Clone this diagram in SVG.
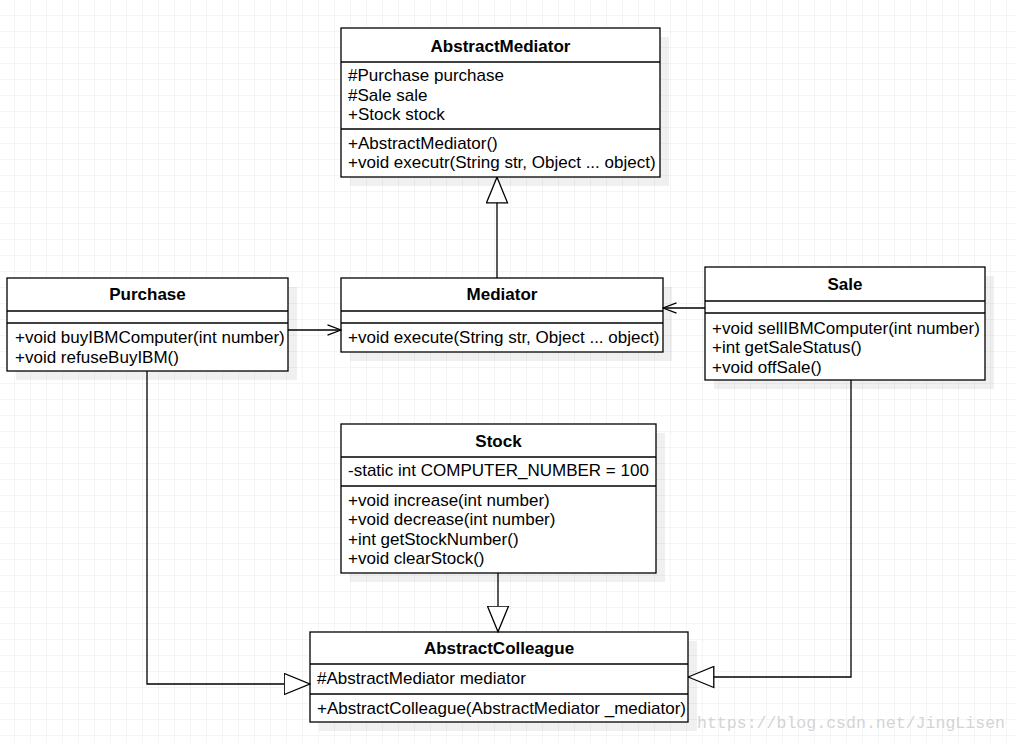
<svg xmlns="http://www.w3.org/2000/svg" width="1017" height="743" viewBox="0 0 1017 743">
<defs>
<pattern id="grid" x="14" y="15" width="16" height="16" patternUnits="userSpaceOnUse">
<path d="M0,0 L16,0 M0,0 L0,16" fill="none" stroke="#ececec" stroke-width="1"/>
</pattern>
<marker id="tri" markerUnits="userSpaceOnUse" viewBox="0 0 27 23" refX="26.5" refY="11.5" markerWidth="27" markerHeight="23" orient="auto">
<path d="M0.7,1 L26.3,11.5 L0.7,22 Z" fill="#ffffff" stroke="#000000" stroke-width="1.3"/>
</marker>
<marker id="open" markerUnits="userSpaceOnUse" viewBox="0 0 15 12" refX="14" refY="6" markerWidth="15" markerHeight="12" orient="auto">
<path d="M0.5,0.8 L14,6 L0.5,11.2" fill="none" stroke="#000000" stroke-width="1.3"/>
</marker>
</defs>
<style>
.box{fill:#ffffff;stroke:#000000;stroke-width:1.3}
.shadow{fill:#000000;fill-opacity:0.06}
.div{stroke:#000000;stroke-width:1.3}
.title{font-family:"Liberation Sans",Arial,sans-serif;font-size:17px;font-weight:bold;fill:#000000;text-anchor:middle}
.t{font-family:"Liberation Sans",Arial,sans-serif;font-size:17px;fill:#000000}
.edge{fill:none;stroke:#000000;stroke-width:1.3}
.wm{font-family:"Liberation Mono","DejaVu Sans Mono",monospace;font-size:16.5px;fill:#d4d4d4}
</style>
<rect x="0" y="0" width="1017" height="743" fill="#ffffff"/>
<rect x="0" y="0" width="1017" height="743" fill="url(#grid)"/>

<g id="AbstractMediator">
<rect class="shadow" x="350" y="37" width="319" height="149"/>
<rect class="box" x="341" y="28" width="319" height="149"/>
<line class="div" x1="341" y1="62" x2="660" y2="62"/>
<line class="div" x1="341" y1="129" x2="660" y2="129"/>
<text class="title" x="500.5" y="51.5">AbstractMediator</text>
<text class="t" x="348" y="81">#Purchase purchase</text>
<text class="t" x="348" y="100.5">#Sale sale</text>
<text class="t" x="348" y="120">+Stock stock</text>
<text class="t" x="348" y="148.5">+AbstractMediator()</text>
<text class="t" x="348" y="168">+void executr(String str, Object ... object)</text>
</g>

<g id="Purchase">
<rect class="shadow" x="16" y="287" width="281" height="93"/>
<rect class="box" x="7" y="278" width="281" height="93"/>
<line class="div" x1="7" y1="311" x2="288" y2="311"/>
<line class="div" x1="7" y1="323" x2="288" y2="323"/>
<text class="title" x="147.5" y="300">Purchase</text>
<text class="t" x="15" y="343">+void buyIBMComputer(int number)</text>
<text class="t" x="15" y="362.5">+void refuseBuyIBM()</text>
</g>

<g id="Mediator">
<rect class="shadow" x="350" y="287" width="322" height="74"/>
<rect class="box" x="341" y="278" width="322" height="74"/>
<line class="div" x1="341" y1="311" x2="663" y2="311"/>
<line class="div" x1="341" y1="323" x2="663" y2="323"/>
<text class="title" x="502" y="300">Mediator</text>
<text class="t" x="348" y="343">+void execute(String str, Object ... object)</text>
</g>

<g id="Sale">
<rect class="shadow" x="714" y="276" width="280" height="113"/>
<rect class="box" x="705" y="267" width="280" height="113"/>
<line class="div" x1="705" y1="301" x2="985" y2="301"/>
<line class="div" x1="705" y1="313" x2="985" y2="313"/>
<text class="title" x="845" y="290">Sale</text>
<text class="t" x="712" y="333.5">+void sellIBMComputer(int number)</text>
<text class="t" x="712" y="353">+int getSaleStatus()</text>
<text class="t" x="712" y="372.5">+void offSale()</text>
</g>

<g id="Stock">
<rect class="shadow" x="350" y="433" width="315" height="149"/>
<rect class="box" x="341" y="424" width="315" height="149"/>
<line class="div" x1="341" y1="457" x2="656" y2="457"/>
<line class="div" x1="341" y1="486" x2="656" y2="486"/>
<text class="title" x="498.5" y="446.5">Stock</text>
<text class="t" x="348" y="476">-static int COMPUTER_NUMBER = 100</text>
<text class="t" x="348" y="505.5">+void increase(int number)</text>
<text class="t" x="348" y="525">+void decrease(int number)</text>
<text class="t" x="348" y="544.5">+int getStockNumber()</text>
<text class="t" x="348" y="564">+void clearStock()</text>
</g>

<g id="AbstractColleague">
<rect class="shadow" x="319" y="641" width="378" height="90"/>
<rect class="box" x="310" y="632" width="378" height="90"/>
<line class="div" x1="310" y1="664" x2="688" y2="664"/>
<line class="div" x1="310" y1="694" x2="688" y2="694"/>
<text class="title" x="499" y="654">AbstractColleague</text>
<text class="t" x="317" y="684">#AbstractMediator mediator</text>
<text class="t" x="317" y="714">+AbstractColleague(AbstractMediator _mediator)</text>
</g>

<g id="connectors">
<path class="edge" d="M497,278 L497,177" marker-end="url(#tri)"/>
<path class="edge" d="M288,330 L341,330" marker-end="url(#open)"/>
<path class="edge" d="M705,308 L663,308" marker-end="url(#open)"/>
<path class="edge" d="M498,573 L498,632" marker-end="url(#tri)"/>
<path class="edge" d="M147,371 L147,684 L310,684" marker-end="url(#tri)"/>
<path class="edge" d="M851,380 L851,677 L688,677" marker-end="url(#tri)"/>
</g>

<text class="wm" x="697" y="728" textLength="308" lengthAdjust="spacingAndGlyphs">https://blog.csdn.net/JingLisen</text>
</svg>
